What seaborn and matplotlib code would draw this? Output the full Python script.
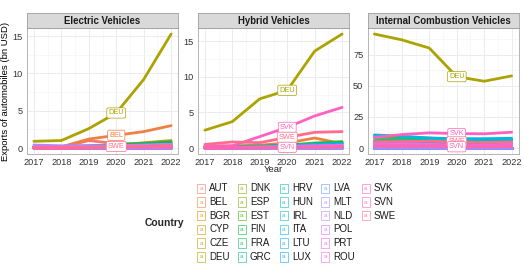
import numpy as np
import pandas as pd
import seaborn as sns
import matplotlib.pyplot as plt

years = [2017, 2018, 2019, 2020, 2021, 2022]

countries = ['AUT', 'BEL', 'BGR', 'CYP', 'CZE', 'DEU', 'DNK', 'ESP', 'EST',
             'FIN', 'FRA', 'GRC', 'HRV', 'HUN', 'IRL', 'ITA', 'LTU', 'LUX',
             'LVA', 'MLT', 'NLD', 'POL', 'PRT', 'ROU', 'SVK', 'SVN', 'SWE']

# exports in bn USD, 2017-2022
electric = {
    'AUT': [0.1, 0.1, 1.0, 0.6, 0.5, 0.6],
    'BEL': [0.1, 0.15, 1.2, 1.7, 2.2, 3.0],
    'BGR': [0.0, 0.0, 0.0, 0.0, 0.01, 0.02],
    'CYP': [0.0, 0.0, 0.0, 0.0, 0.0, 0.0],
    'CZE': [0.05, 0.1, 0.2, 0.4, 0.7, 1.0],
    'DEU': [0.9, 1.0, 2.6, 4.7, 9.2, 15.3],
    'DNK': [0.0, 0.0, 0.01, 0.05, 0.05, 0.1],
    'ESP': [0.1, 0.1, 0.2, 0.3, 0.5, 0.7],
    'EST': [0.0, 0.0, 0.0, 0.01, 0.02, 0.03],
    'FIN': [0.0, 0.05, 0.1, 0.2, 0.3, 0.4],
    'FRA': [0.2, 0.2, 0.3, 0.45, 0.6, 0.8],
    'GRC': [0.0, 0.0, 0.0, 0.0, 0.01, 0.01],
    'HRV': [0.0, 0.0, 0.0, 0.01, 0.02, 0.05],
    'HUN': [0.1, 0.1, 0.1, 0.2, 0.35, 0.5],
    'IRL': [0.0, 0.0, 0.0, 0.01, 0.02, 0.02],
    'ITA': [0.05, 0.1, 0.1, 0.2, 0.3, 0.45],
    'LTU': [0.0, 0.0, 0.01, 0.02, 0.03, 0.05],
    'LUX': [0.0, 0.0, 0.01, 0.02, 0.03, 0.03],
    'LVA': [0.0, 0.0, 0.0, 0.01, 0.01, 0.02],
    'MLT': [0.0, 0.0, 0.0, 0.0, 0.0, 0.0],
    'NLD': [0.4, 0.3, 0.3, 0.3, 0.4, 0.5],
    'POL': [0.05, 0.05, 0.1, 0.15, 0.2, 0.3],
    'PRT': [0.0, 0.0, 0.02, 0.05, 0.1, 0.1],
    'ROU': [0.0, 0.0, 0.01, 0.02, 0.05, 0.1],
    'SVK': [0.0, 0.0, 0.05, 0.1, 0.2, 0.3],
    'SVN': [0.0, 0.0, 0.02, 0.1, 0.2, 0.3],
    'SWE': [0.05, 0.1, 0.1, 0.2, 0.2, 0.25],
}

hybrid = {
    'AUT': [0.1, 0.1, 0.2, 0.3, 0.4, 0.4],
    'BEL': [0.3, 0.3, 0.4, 0.7, 1.4, 0.6],
    'BGR': [0.0, 0.0, 0.0, 0.0, 0.0, 0.01],
    'CYP': [0.0, 0.0, 0.0, 0.0, 0.0, 0.0],
    'CZE': [0.1, 0.1, 0.2, 0.3, 0.5, 0.7],
    'DEU': [2.5, 3.7, 6.9, 8.1, 13.6, 16.0],
    'DNK': [0.0, 0.0, 0.01, 0.02, 0.05, 0.05],
    'ESP': [0.1, 0.2, 0.3, 0.4, 0.7, 0.9],
    'EST': [0.0, 0.0, 0.0, 0.01, 0.01, 0.02],
    'FIN': [0.0, 0.0, 0.05, 0.1, 0.15, 0.2],
    'FRA': [0.1, 0.1, 0.2, 0.4, 0.6, 0.8],
    'GRC': [0.0, 0.0, 0.0, 0.0, 0.01, 0.01],
    'HRV': [0.0, 0.0, 0.0, 0.01, 0.01, 0.02],
    'HUN': [0.1, 0.1, 0.1, 0.3, 0.5, 0.6],
    'IRL': [0.0, 0.0, 0.01, 0.02, 0.03, 0.03],
    'ITA': [0.1, 0.1, 0.2, 0.3, 0.5, 0.6],
    'LTU': [0.0, 0.0, 0.02, 0.03, 0.05, 0.05],
    'LUX': [0.0, 0.0, 0.01, 0.02, 0.03, 0.03],
    'LVA': [0.0, 0.0, 0.0, 0.01, 0.01, 0.02],
    'MLT': [0.0, 0.0, 0.0, 0.0, 0.0, 0.0],
    'NLD': [0.0, 0.05, 0.1, 0.2, 0.3, 0.3],
    'POL': [0.05, 0.1, 0.15, 0.2, 0.3, 0.4],
    'PRT': [0.0, 0.0, 0.02, 0.05, 0.1, 0.15],
    'ROU': [0.0, 0.0, 0.05, 0.1, 0.2, 0.3],
    'SVK': [0.2, 0.3, 1.6, 2.9, 4.5, 5.7],
    'SVN': [0.0, 0.0, 0.02, 0.1, 0.1, 0.15],
    'SWE': [0.5, 0.85, 0.75, 1.5, 2.2, 2.3],
}

combustion = {
    'AUT': [3.0, 3.0, 2.5, 2.0, 2.0, 2.5],
    'BEL': [5.0, 5.0, 4.5, 3.5, 3.5, 4.0],
    'BGR': [0.1, 0.1, 0.1, 0.1, 0.1, 0.1],
    'CYP': [0.0, 0.0, 0.0, 0.0, 0.0, 0.0],
    'CZE': [8.0, 8.0, 7.5, 6.5, 6.0, 6.5],
    'DEU': [91.7, 87.0, 80.4, 57.4, 53.7, 58.0],
    'DNK': [0.3, 0.3, 0.3, 0.2, 0.2, 0.3],
    'ESP': [9.0, 8.5, 8.0, 7.0, 6.5, 7.0],
    'EST': [0.1, 0.1, 0.1, 0.1, 0.1, 0.1],
    'FIN': [0.5, 0.6, 0.6, 0.4, 0.4, 0.5],
    'FRA': [4.0, 4.0, 3.5, 3.0, 3.0, 3.5],
    'GRC': [0.1, 0.1, 0.1, 0.1, 0.1, 0.1],
    'HRV': [0.1, 0.1, 0.1, 0.1, 0.1, 0.1],
    'HUN': [6.0, 6.5, 6.0, 5.5, 5.5, 6.0],
    'IRL': [0.2, 0.2, 0.2, 0.2, 0.2, 0.2],
    'ITA': [10.5, 9.5, 8.0, 7.5, 7.5, 7.8],
    'LTU': [0.4, 0.4, 0.4, 0.3, 0.4, 0.4],
    'LUX': [0.3, 0.3, 0.3, 0.2, 0.2, 0.2],
    'LVA': [0.1, 0.1, 0.1, 0.1, 0.1, 0.1],
    'MLT': [0.0, 0.0, 0.0, 0.0, 0.0, 0.0],
    'NLD': [1.5, 1.5, 1.2, 1.0, 1.0, 1.2],
    'POL': [3.5, 3.5, 3.0, 2.5, 2.5, 3.0],
    'PRT': [2.0, 2.0, 2.0, 1.5, 1.5, 1.8],
    'ROU': [2.0, 2.0, 2.0, 1.8, 1.8, 2.0],
    'SVK': [8.6, 10.8, 12.2, 11.6, 11.4, 12.7],
    'SVN': [1.5, 1.5, 1.5, 1.0, 1.0, 1.2],
    'SWE': [5.0, 5.2, 5.5, 4.9, 4.5, 4.8],
}

panels = [('Electric Vehicles', electric, ['DEU', 'BEL', 'SWE']),
          ('Hybrid Vehicles', hybrid, ['DEU', 'SVK', 'SWE', 'SVN']),
          ('Internal Combustion Vehicles', combustion, ['DEU', 'SVK', 'SWE', 'SVN'])]


def hcl(h, c=100, l=65):
    # ggplot-style hue colour (polar Luv -> sRGB)
    h = np.deg2rad(h)
    u, v = c * np.cos(h), c * np.sin(h)
    Y = ((l + 16) / 116) ** 3
    xn, yn, zn = 0.95047, 1.0, 1.08883
    d = xn + 15 * yn + 3 * zn
    up = u / (13 * l) + 4 * xn / d
    vp = v / (13 * l) + 9 * yn / d
    X = Y * 9 * up / (4 * vp)
    Z = Y * (12 - 3 * up - 20 * vp) / (4 * vp)
    rgb = np.array([3.2404542 * X - 1.5371385 * Y - 0.4985314 * Z,
                    -0.9692660 * X + 1.8760108 * Y + 0.0415560 * Z,
                    0.0556434 * X - 0.2040259 * Y + 1.0572252 * Z])
    rgb = np.where(rgb <= 0.0031308, 12.92 * rgb, 1.055 * np.abs(rgb) ** (1 / 2.4) - 0.055)
    return tuple(np.clip(rgb, 0, 1))


hues = np.linspace(15, 375, len(countries) + 1)[:-1]
palette = {c: hcl(h) for c, h in zip(countries, hues)}

sns.set_theme(style='whitegrid')
plt.rcParams['font.family'] = ['Liberation Sans', 'DejaVu Sans']

W, H = 524, 268
fig = plt.figure(figsize=(W / 100, H / 100), dpi=100)

lefts = [27, 198, 367.5]
pw = 151
top, bottom = 28.3, 153.7
strip_top = 13.3

for i, (title, data, labelled) in enumerate(panels):
    df = pd.DataFrame([(c, y, v) for c in countries for y, v in zip(years, data[c])],
                      columns=['Country', 'Year', 'Value'])
    ax = fig.add_axes([lefts[i] / W, 1 - bottom / H, pw / W, (bottom - top) / H])
    sns.lineplot(data=df, x='Year', y='Value', hue='Country', hue_order=countries,
                 palette=palette, linewidth=2.0, legend=False, ax=ax)
    ax.margins(x=0.05, y=0.05)
    ax.set_xticks(years)
    ax.set_xticks([2017.5, 2018.5, 2019.5, 2020.5, 2021.5], minor=True)
    if i == 2:
        ax.set_yticks([0, 25, 50, 75])
        ax.set_yticks([12.5, 37.5, 62.5, 87.5], minor=True)
    else:
        ax.set_yticks([0, 5, 10, 15])
        ax.set_yticks([2.5, 7.5, 12.5], minor=True)
    ax.grid(which='major', color='#ebebeb', linewidth=0.7)
    ax.grid(which='minor', color='#f3f3f3', linewidth=0.4)
    ax.set_axisbelow(True)
    ax.tick_params(axis='both', which='major', length=2, width=0.5, color='#555555',
                   labelsize=6.6, pad=1, labelcolor='#333333')
    ax.tick_params(axis='both', which='minor', length=0)
    for s in ax.spines.values():
        s.set_color('#a8a8a8')
        s.set_linewidth(0.6)
    ax.set_xlabel('')
    ax.set_ylabel('')

    # country labels at 2020
    for c in labelled:
        val = data[c][years.index(2020)]
        ax.text(2020, val, c, fontsize=5.3, color=palette[c], ha='center', va='center',
                bbox=dict(boxstyle='round,pad=0.22', fc='white', ec=palette[c], lw=0.5))

    # facet strip
    sax = fig.add_axes([lefts[i] / W, 1 - top / H, pw / W, (top - strip_top) / H])
    sax.set_facecolor('#d9d9d9')
    sax.set_xticks([])
    sax.set_yticks([])
    sax.grid(False)
    for s in sax.spines.values():
        s.set_color('#a0a0a0')
        s.set_linewidth(0.6)
    sax.text(0.5, 0.5, title, transform=sax.transAxes, ha='center', va='center',
             fontsize=6.9, fontweight='bold', color='#1a1a1a')

fig.text(6 / W, 1 - 91 / H, 'Exports of automobiles (bn USD)', rotation=90,
         ha='center', va='center', fontsize=6.8, color='black')
fig.text(273 / W, 1 - 170 / H, 'Year', ha='center', va='center', fontsize=6.8)

# legend, filled column by column
fig.text(164 / W, 1 - 223 / H, 'Country', ha='center', va='center',
         fontsize=7.4, fontweight='bold')
key_x = [201, 242, 284, 325, 366]
row_y = [188.3, 202, 215.7, 229.4, 243.1, 256.8]
for k, c in enumerate(countries):
    col, row = divmod(k, 6)
    x, y = key_x[col], row_y[row]
    fig.text(x / W, 1 - y / H, 'a', ha='center', va='center', fontsize=4.6,
             color=palette[c], alpha=0.8,
             bbox=dict(boxstyle='square,pad=0.35', fc='white', ec=palette[c],
                       lw=0.5, alpha=0.8))
    fig.text((x + 8) / W, 1 - y / H, c, ha='left', va='center', fontsize=7,
             color='#1a1a1a')

fig.savefig('out.png', dpi=100)
